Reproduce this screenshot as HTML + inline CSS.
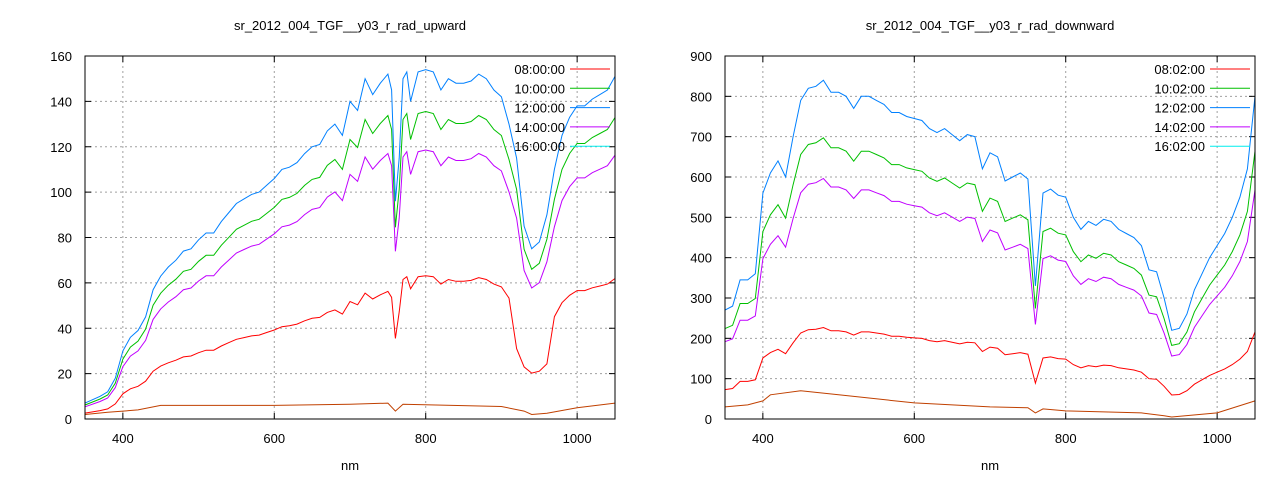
<!DOCTYPE html>
<html><head><meta charset="utf-8"><style>
body{margin:0;background:#fff;}
svg text{font-family:"Liberation Sans",sans-serif;font-size:13px;fill:#000;}
</style></head><body>
<svg id="s" width="1280" height="480" xmlns="http://www.w3.org/2000/svg"></svg>
<script>
const S=document.getElementById('s');let h='';
const blueL=[[350,7],[370,10],[380,12],[390,18],[400,30],[410,36],[420,39],[430,45],[440,57],[450,63],[460,67],[470,70],[480,74],[490,75],[500,79],[510,82],[520,82],[530,87],[540,91],[550,95],[560,97],[570,99],[580,100],[590,103],[600,106],[610,110],[620,111],[630,113],[640,117],[650,120],[660,121],[670,127],[680,130],[690,125],[700,140],[710,136],[720,150],[730,143],[740,148],[750,152],[755,145],[760,96],[765,115],[770,150],[775,153],[780,140],[790,153],[800,154],[810,153],[820,145],[830,150],[840,148],[850,148],[860,149],[870,152],[880,150],[890,145],[900,142],[910,130],[920,115],[930,85],[940,75],[950,78],[960,90],[970,110],[980,125],[990,133],[1000,138],[1010,138],[1020,141],[1030,143],[1040,145],[1050,151]];
const orL=[[350,2],[380,3],[400,3.5],[420,4],[450,6],[600,6],[700,6.5],[750,7],[760,3.5],[770,6.5],[900,5.5],[930,3.5],[940,2],[960,2.5],[1000,5],[1050,7]];
const blueR=[[350,270],[360,280],[370,345],[380,345],[390,360],[400,560],[410,610],[420,640],[430,600],[440,700],[450,790],[460,820],[470,825],[480,840],[490,810],[500,810],[510,800],[520,770],[530,800],[540,800],[550,790],[560,780],[570,760],[580,760],[590,750],[600,745],[610,740],[620,720],[630,710],[640,720],[650,705],[660,690],[670,705],[680,700],[690,620],[700,660],[710,650],[720,590],[730,600],[740,610],[750,595],[760,330],[770,560],[780,570],[790,555],[800,550],[810,500],[820,470],[830,490],[840,480],[850,495],[860,490],[870,470],[880,460],[890,450],[900,430],[910,370],[920,365],[930,300],[940,220],[950,225],[960,260],[970,320],[980,360],[990,400],[1000,430],[1010,460],[1020,500],[1030,550],[1040,620],[1050,800]];
const orR=[[350,30],[380,35],[400,45],[410,60],[450,70],[500,60],[600,40],[700,30],[750,28],[760,15],[770,25],[800,20],[900,15],[930,8],[940,5],[1000,15],[1050,45]];
function chart(x0,title,ymax,ystep,series,legend){
 const X=n=>x0+(n-350)*530/700, Y=v=>419-v*363/ymax;
 for(let n=400;n<=1000;n+=200){h+=`<line x1="${X(n)}" y1="56" x2="${X(n)}" y2="419" stroke="#a0a0a0" stroke-dasharray="2,3"/>`;
  h+=`<line x1="${X(n)}" y1="419" x2="${X(n)}" y2="413" stroke="#000"/><line x1="${X(n)}" y1="56" x2="${X(n)}" y2="62" stroke="#000"/>`;
  h+=`<text x="${X(n)}" y="443" text-anchor="middle">${n}</text>`;}
 for(let v=0;v<=ymax;v+=ystep){const y=Y(v);
  if(v>0&&v<ymax)h+=`<line x1="${x0}" y1="${y}" x2="${x0+530}" y2="${y}" stroke="#a0a0a0" stroke-dasharray="2,3"/>`;
  h+=`<line x1="${x0}" y1="${y}" x2="${x0+6}" y2="${y}" stroke="#000"/><line x1="${x0+530}" y1="${y}" x2="${x0+524}" y2="${y}" stroke="#000"/>`;
  h+=`<text x="${x0-13}" y="${y+5}" text-anchor="end">${v}</text>`;}
 series.forEach(([pts,c])=>{h+=`<polyline fill="none" stroke="${c}" stroke-width="1" points="${pts.map(p=>X(p[0]).toFixed(1)+','+Y(p[1]).toFixed(1)).join(' ')}"/>`;});
 h+=`<rect x="${x0}" y="56" width="530" height="363" fill="none" stroke="#000"/>`;
 h+=`<text x="${x0+265}" y="30" text-anchor="middle">${title}</text><text x="${x0+265}" y="470" text-anchor="middle">nm</text>`;
 const lc=['#ff0000','#00c000','#0080ff','#c000ff','#00eeee'];
 legend.forEach((t,i)=>{const y=69+i*19.3;h+=`<text x="${x0+480}" y="${y+5}" text-anchor="end">${t}</text><line x1="${x0+485}" y1="${y}" x2="${x0+525}" y2="${y}" stroke="${lc[i]}"/>`;});
}
const sc=(a,f)=>a.map(p=>[p[0],p[1]*f]);
const redL=blueL.map(p=>{let f=p[0]<765?0.37:0.41;if(p[0]>=920&&p[0]<=960)f=0.27;return [p[0],p[1]*f];});
chart(85,'sr_2012_004_TGF__y03_r_rad_upward',160,20,[[redL,'#ff0000'],[sc(blueL,0.77),'#c000ff'],[sc(blueL,0.88),'#00c000'],[blueL,'#0080ff'],[orL,'#c04000']],['08:00:00','10:00:00','12:00:00','14:00:00','16:00:00']);
chart(725,'sr_2012_004_TGF__y03_r_rad_downward',900,100,[[sc(blueR,0.27),'#ff0000'],[sc(blueR,0.71),'#c000ff'],[sc(blueR,0.83),'#00c000'],[blueR,'#0080ff'],[orR,'#c04000']],['08:02:00','10:02:00','12:02:00','14:02:00','16:02:00']);
S.innerHTML=h;
</script>
</body></html>
